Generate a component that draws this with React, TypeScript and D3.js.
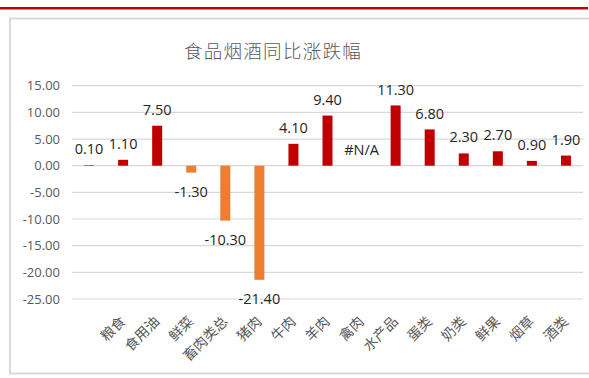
// @ts-nocheck
import { useRef, useEffect } from "react";
import * as d3 from "d3";

const categories = ["", "粮食", "食用油", "鲜菜", "畜肉类总", "猪肉", "牛肉", "羊肉", "禽肉", "水产品", "蛋类", "奶类", "鲜果", "烟草", "酒类"];
const values = [0.1, 1.1, 7.5, -1.3, -10.3, -21.4, 4.1, 9.4, null, 11.3, 6.8, 2.3, 2.7, 0.9, 1.9];
const yTicks = [15, 10, 5, 0, -5, -10, -15, -20, -25];
const title = "食品烟酒同比涨跌幅";

const W = 589;
const H = 378;

const App = () => {
  const chartRef = useRef(null);

  useEffect(() => {
    const svg = d3.select(chartRef.current);
    svg.selectAll("*").remove();

    const x = d3.scaleBand().domain(d3.range(categories.length)).range([72, 583]).padding(0);
    const y = d3.scaleLinear().domain([-25, 15]).range([299, 85.7]);
    const barW = 10;

    svg.append("rect").attr("width", W).attr("height", H).attr("fill", "#fff");

    // top red rule and chart frame (right side runs off the page)
    svg.append("rect").attr("x", 0).attr("y", 7).attr("width", 588).attr("height", 2.5).attr("fill", "#C00000");
    svg
      .append("path")
      .attr("d", `M${W},18.5 H10 V373.5 H${W}`)
      .attr("fill", "none")
      .attr("stroke", "#D9D9D9")
      .attr("stroke-width", 2);

    svg
      .append("text")
      .attr("x", 273)
      .attr("y", 50)
      .attr("text-anchor", "middle")
      .attr("dominant-baseline", "central")
      .attr("font-family", "'Noto Sans CJK SC'")
      .attr("font-weight", 300)
      .attr("font-size", 18.5)
      .attr("letter-spacing", 1.3)
      .attr("fill", "#595959")
      .text(title);

    // gridlines + y tick labels
    const g = svg.append("g");
    g.selectAll("line.grid")
      .data(yTicks)
      .join("line")
      .attr("x1", 72)
      .attr("x2", 583)
      .attr("y1", (d) => y(d))
      .attr("y2", (d) => y(d))
      .attr("stroke", "#D9D9D9")
      .attr("stroke-width", 1.2);

    g.selectAll("text.tick")
      .data(yTicks)
      .join("text")
      .attr("x", 60)
      .attr("y", (d) => y(d))
      .attr("dy", "0.35em")
      .attr("text-anchor", "end")
      .attr("font-family", "'Open Sans'")
      .attr("font-size", 13)
      .attr("fill", "#595959")
      .text((d) => d.toFixed(2));

    // bars
    const data = values.map((v, i) => ({ i, v }));
    svg
      .append("g")
      .selectAll("rect")
      .data(data.filter((d) => d.v !== null))
      .join("rect")
      .attr("x", (d) => x(d.i) + x.bandwidth() / 2 - barW / 2)
      .attr("y", (d) => y(Math.max(0, d.v)))
      .attr("width", barW)
      .attr("height", (d) => Math.abs(y(d.v) - y(0)))
      .attr("fill", (d) => (d.v >= 0 ? "#C00000" : "#ED7D31"));

    // data labels
    svg
      .append("g")
      .selectAll("text")
      .data(data)
      .join("text")
      .attr("x", (d) => x(d.i) + x.bandwidth() / 2)
      .attr("y", (d) => {
        const v = d.v === null ? 0 : d.v;
        return v >= 0 ? y(v) - 16 : y(v) + 19;
      })
      .attr("dy", "0.35em")
      .attr("text-anchor", "middle")
      .attr("font-family", "'Open Sans'")
      .attr("font-size", 14.5)
      .attr("fill", "#262626")
      .text((d) => (d.v === null ? "#N/A" : d.v.toFixed(2)));

    // category labels, rotated
    svg
      .append("g")
      .selectAll("text")
      .data(categories)
      .join("text")
      .attr("transform", (d, i) => `translate(${x(i) + x.bandwidth() / 2 - 1},318) rotate(-45)`)
      .attr("dominant-baseline", "central")
      .attr("text-anchor", "end")
      .attr("font-family", "'Noto Sans CJK SC'")
      .attr("font-size", 14)
      .attr("fill", "#595959")
      .text((d) => d);
  }, []);

  return <svg ref={chartRef} width={W} height={H} style={{ position: "absolute", left: 0, top: 0 }}></svg>;
};

export default App;
